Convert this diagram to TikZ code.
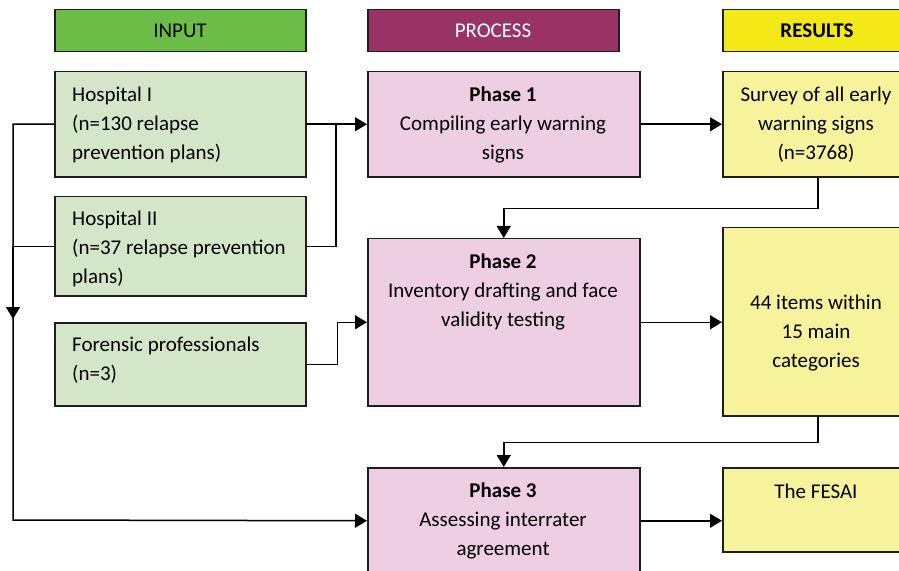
\documentclass[tikz,border=0pt]{standalone}
\usepackage{fontspec}
\setmainfont{Carlito}
\usetikzlibrary{arrows.meta}

\definecolor{hdrgreen}{RGB}{108,189,69}
\definecolor{hdrpurple}{RGB}{153,51,102}
\definecolor{hdryellow}{RGB}{242,233,22}
\definecolor{boxgreen}{RGB}{212,230,200}
\definecolor{boxpink}{RGB}{237,206,226}
\definecolor{boxyellow}{RGB}{247,242,156}
\definecolor{edge}{RGB}{30,30,30}

\begin{document}
\begin{tikzpicture}[x=1bp,y=-1bp,
  box/.style={draw=edge, line width=1.5bp, inner sep=0pt, anchor=north west},
  txt/.style={font=\fontsize{21bp}{29bp}\selectfont, inner sep=0pt, text=black},
  conn/.style={draw=black, line width=1.5bp, -{Triangle[length=12bp,width=14bp]}},
  wire/.style={draw=black, line width=1.5bp}]
\useasboundingbox (0,0) rectangle (899,571);

% column headers
\node[box, fill=hdrgreen,  minimum width=251bp, minimum height=42bp] (hin) at (54,9) {};
\node[box, fill=hdrpurple, minimum width=251bp, minimum height=42bp] (hpr) at (367,9) {};
\node[box, fill=hdryellow, minimum width=200bp, minimum height=42bp] (hre) at (722,9) {};
\node[txt] (thin) at (180,31) {INPUT};
\node[txt, text=white] (thpr) at (493,31) {PROCESS};
\node[txt, font=\fontsize{21bp}{29bp}\selectfont\bfseries] (thre) at (817,31) {RESULTS};

% input boxes
\node[box, fill=boxgreen, minimum width=251bp, minimum height=105bp] (h1) at (54,71) {};
\node[box, fill=boxgreen, minimum width=251bp, minimum height=99bp] (h2) at (54,196) {};
\node[box, fill=boxgreen, minimum width=251bp, minimum height=83bp] (fp) at (54,322) {};
\node[txt, anchor=west, align=left] (th1) at (72,125) {Hospital I\\(n=130 relapse\\prevention plans)};
\node[txt, anchor=west, align=left] (th2) at (72,249) {Hospital II\\(n=37 relapse prevention\\plans)};
\node[txt, anchor=west, align=left] (tfp) at (72,360) {Forensic professionals\\(n=3)};

% process boxes
\node[box, fill=boxpink, minimum width=272bp, minimum height=105bp] (p1) at (367,71) {};
\node[box, fill=boxpink, minimum width=272bp, minimum height=167bp] (p2) at (367,238) {};
\node[box, fill=boxpink, minimum width=272bp, minimum height=106bp] (p3) at (367,467) {};
\node[txt, align=center] (tp1) at (503,125) {\textbf{Phase 1}\\Compiling early warning\\signs};
\node[txt, align=center] (tp2) at (503,292) {\textbf{Phase 2}\\Inventory drafting and face\\validity testing};
\node[txt, align=center] (tp3) at (503,521) {\textbf{Phase 3}\\Assessing interrater\\agreement};

% result boxes
\node[box, fill=boxyellow, minimum width=190bp, minimum height=105bp] (r1) at (722,71) {};
\node[box, fill=boxyellow, minimum width=190bp, minimum height=188bp] (r2) at (722,227) {};
\node[box, fill=boxyellow, minimum width=190bp, minimum height=84bp] (r3) at (722,467) {};
\node[txt, align=center] (tr1) at (816,125) {Survey of all early\\warning signs\\(n=3768)};
\node[txt, align=center] (tr2) at (816,333) {44 items within\\15 main\\categories};
\node[txt] (tr3) at (816,491) {The FESAI};

% inputs into phase 1
\coordinate (j1) at (336,124);
\draw[conn] (h1.east) -- (p1.west);
\draw[wire] (h2.east) -| (j1);

% forensic professionals into phase 2
\draw[conn] (fp.east) -- ++(31,0) |- (p2.west);

% hospital data bus down to phase 3
\coordinate (bus) at (13,520);
\coordinate (busarrow) at (13,319);
\draw[conn] (h1.west) -| (bus) -- (p3.west);
\draw[wire] (h2.west) -- (h2.west -| bus);
\draw[conn] (h2.west -| bus) -- (busarrow);

% process to results
\draw[conn] (p1.east) -- (r1.west);
\draw[conn] (p2.east) -- (p2.east -| r2.west);
\draw[conn] (p3.east) -- (p3.east -| r3.west);

% results feeding the next phase
\draw[conn] (r1.south) -- ++(0,31) -| (p2.north);
\draw[conn] (r2.south) -- ++(0,26) -| (p3.north);
\end{tikzpicture}
\end{document}
